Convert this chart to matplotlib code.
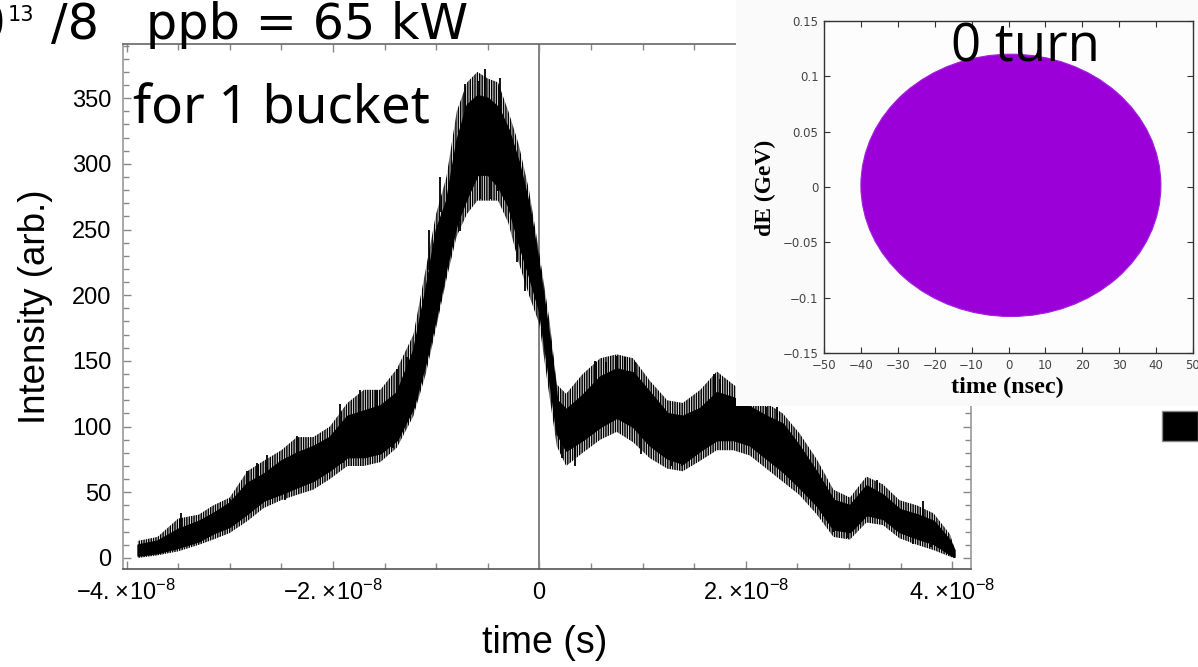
import numpy as np
import matplotlib.pyplot as plt
from matplotlib.patches import Ellipse, Rectangle
from matplotlib.ticker import MultipleLocator, FixedLocator

plt.rcParams['mathtext.fontset'] = 'custom'
plt.rcParams['mathtext.rm'] = 'Liberation Sans'
plt.rcParams['mathtext.default'] = 'rm'
plt.rcParams['hatch.linewidth'] = 1.1
plt.rcParams['hatch.color'] = 'black'

# bunch profile: time in units of 1e-8 s, lower / upper edge of the dense trace
t_1e8 = [-3.89, -3.7, -3.5, -3.3, -3.16, -3.0, -2.83, -2.67, -2.5, -2.35,
         -2.19, -2.03, -1.86, -1.7, -1.54, -1.38, -1.22, -1.1, -1.0, -0.9,
         -0.8, -0.7, -0.6, -0.5, -0.4, -0.3, -0.2, -0.1, 0.0, 0.1,
         0.17, 0.26, 0.42, 0.59, 0.75, 0.91, 1.07, 1.24, 1.39, 1.56,
         1.72, 1.88, 2.04, 2.2, 2.36, 2.52, 2.69, 2.85, 3.01, 3.17,
         3.33, 3.49, 3.66, 3.82, 3.98, 4.02]
lo = [2, 4, 8, 13, 19, 24, 34, 44, 49, 54,
      59, 67, 77, 77, 80, 90, 115, 150, 184, 222,
      255, 275, 292, 292, 283, 268, 240, 215, 188, 135,
      95, 82, 90, 100, 107, 100, 86, 76, 72, 82,
      90, 90, 86, 76, 66, 54, 40, 22, 20, 33,
      30, 20, 15, 11, 3, 1]
hi = [10, 13, 22, 28, 34, 42, 57, 64, 74, 80,
      85, 92, 108, 112, 116, 126, 158, 205, 250, 272,
      318, 345, 352, 350, 343, 326, 301, 268, 220, 165,
      120, 113, 124, 138, 144, 141, 126, 110, 108, 114,
      126, 122, 115, 108, 102, 85, 65, 44, 40, 55,
      48, 37, 33, 28, 13, 6]
# how far the noise reaches below / above the dense part
noise_lo = [0, 2, 5, 10, 14, 19, 28, 38, 44, 48,
            52, 60, 70, 70, 73, 84, 108, 140, 175, 212,
            245, 262, 272, 272, 272, 255, 225, 200, 178, 122,
            85, 70, 80, 90, 96, 88, 76, 68, 66, 74,
            82, 82, 78, 68, 58, 48, 33, 16, 14, 27,
            25, 15, 10, 6, 1, 0]
noise_hi = [13, 16, 30, 33, 40, 46, 66, 74, 82, 92,
            92, 100, 118, 128, 128, 144, 170, 220, 262, 290,
            340, 362, 370, 365, 362, 340, 315, 280, 232, 180,
            132, 125, 140, 152, 155, 152, 135, 120, 118, 128,
            142, 132, 124, 118, 110, 95, 75, 52, 46, 62,
            56, 44, 40, 34, 18, 8]

# isolated spikes sticking out of the band
spike_t = [-3.47, -3.0, -2.83, -2.74, -2.64, -2.46, -2.35, -1.93, -1.9, -1.74,
           -1.58, -1.42, -1.38, -1.32, -1.28, -1.07, -0.96, -0.77, -0.72, -0.59,
           -0.57, -0.53, -0.48, -0.4, -0.38, -0.22, -0.14, 0.22, 0.35, 0.54,
           0.65, 0.75, 0.83, 0.93, 0.99, 1.28, 1.38, 1.69, 1.75, 2.2,
           2.3, 2.43, 2.85, 2.98, 3.27, 3.62, 3.72, 3.8]
spike_lo = [20, 30, 45, 55, 60, 44, 65, 90, 72, 100,
            100, 84, 110, 102, 130, 219, 263, 249, 330, 330,
            273, 330, 273, 279, 320, 225, 203, 76, 70, 120,
            120, 125, 125, 120, 79, 70, 70, 110, 110, 95,
            95, 63, 20, 15, 45, 11, 30, 8]
spike_hi = [34, 45, 66, 72, 78, 60, 93, 117, 90, 128,
            128, 100, 144, 120, 153, 250, 290, 280, 361, 363,
            300, 372, 300, 300, 365, 260, 230, 100, 95, 150,
            149, 154, 153, 149, 105, 95, 95, 140, 136, 115,
            115, 85, 35, 30, 59, 25, 43, 20]

# phase space distribution at turn 0 (edges of the filled region)
dist_t_min, dist_t_max = -40.0, 41.3
dist_de_min, dist_de_max = -0.117, 0.120

xtick_vals = [-4e-8, -2e-8, 0, 2e-8, 4e-8]
xtick_labels = [r'$-4.\!\times\!10^{-8}$', r'$-2.\!\times\!10^{-8}$', r'$0$',
                r'$2.\!\times\!10^{-8}$', r'$4.\!\times\!10^{-8}$']
ytick_vals = [0, 50, 100, 150, 200, 250, 300, 350]

W, H = 1198, 667
fig = plt.figure(figsize=(W / 100, H / 100), dpi=100)
fig.patch.set_facecolor('white')

def fx(px):
    return px / W

def fy(py):
    return 1 - py / H

# main profile plot
ax = fig.add_axes([fx(122.7), fy(569), fx(971) - fx(122.7), fy(44.3) - fy(569)])
t = np.array(t_1e8) * 1e-8
ax.fill_between(t, noise_lo, noise_hi, facecolor='none', edgecolor='black', hatch='|' * 7, lw=0)
ax.fill_between(t, lo, hi, color='black', lw=1.5)
ax.vlines(np.array(spike_t) * 1e-8, spike_lo, spike_hi, color='black', lw=1.3)
ax.axvline(0, color='#777777', lw=1.3, zorder=0)
ax.set_xlim(-4.037e-8, 4.183e-8)
ax.set_ylim(-8.4, 391)

ax.xaxis.set_major_locator(FixedLocator(xtick_vals))
ax.set_xticklabels(xtick_labels)
ax.xaxis.set_minor_locator(MultipleLocator(0.5e-8))
ax.set_yticks(ytick_vals)
ax.yaxis.set_minor_locator(MultipleLocator(10))
ax.tick_params(which='both', direction='in', top=True, right=True, color='#888888')
ax.tick_params(which='major', length=6, width=1)
ax.tick_params(which='minor', length=4, width=1)
ax.tick_params(axis='x', pad=8, labelsize=17)
ax.tick_params(axis='y', pad=8, labelsize=17)
for lab in ax.get_yticklabels():
    lab.set_family('Liberation Sans')
for name, sp in ax.spines.items():
    sp.set_color('#999999')
    sp.set_linewidth(1.2)
ax.spines['bottom'].set_color('#555555')
ax.spines['top'].set_color('#666666')

fig.text(fx(545), fy(643), 'time (s)', fontsize=27, family=['Liberation Sans Narrow', 'Liberation Sans'],
         ha='center', va='center')
fig.text(fx(36), fy(307), 'Intensity (arb.)', fontsize=26.5, family='Liberation Sans',
         rotation=90, ha='center', va='center')

# slide annotations
fig.text(fx(133), fy(124), 'for 1 bucket', fontsize=38, family=['Noto Sans', 'DejaVu Sans'],
         ha='left', va='baseline')
fig.text(fx(6), fy(39), '10', fontsize=35.5, family='DejaVu Sans', ha='right', va='baseline')
fig.text(fx(8), fy(21), '13', fontsize=15, family='DejaVu Sans', ha='left', va='baseline')
fig.text(fx(468), fy(39), '/8   ppb = 65 kW', fontsize=35.5, family='DejaVu Sans',
         ha='right', va='baseline')

# inset: phase space at turn 0
bg = fig.add_axes([fx(736), fy(406), 1 - fx(736), fy(0) - fy(406)])
bg.set_facecolor('#fafafa')
bg.set_xticks([])
bg.set_yticks([])
for sp in bg.spines.values():
    sp.set_visible(False)

ins = fig.add_axes([fx(824), fy(353), fx(1193) - fx(824), fy(21) - fy(353)])
ins.set_facecolor('#fdfdfd')
ins.add_patch(Ellipse(((dist_t_min + dist_t_max) / 2, (dist_de_min + dist_de_max) / 2),
                      dist_t_max - dist_t_min, dist_de_max - dist_de_min,
                      facecolor='#9b00d8', edgecolor='#a020dc', lw=0.8))
ins.set_xlim(-50, 50)
ins.set_ylim(-0.15, 0.15)
ins.set_xticks(np.arange(-50, 51, 10))
ins.set_yticks([-0.15, -0.1, -0.05, 0, 0.05, 0.1, 0.15])
ins.set_yticklabels(['\u22120.15', '\u22120.1', '\u22120.05', '0', '0.05', '0.1', '0.15'])
ins.set_xticklabels([str(v).replace('-', '\u2212') for v in range(-50, 51, 10)])
ins.tick_params(direction='in', top=True, right=True, length=4, width=0.8,
                labelsize=8.5, labelcolor='#444444', color='#333333', pad=4)
for sp in ins.spines.values():
    sp.set_color('#333333')
    sp.set_linewidth(1.0)

fig.text(fx(1007), fy(387), 'time (nsec)', fontsize=17.5, family='Liberation Serif', weight='bold',
         ha='center', va='center')
fig.text(fx(765), fy(188), 'dE (GeV)', fontsize=17, family='Liberation Serif', weight='bold',
         rotation=90, ha='center', va='center')
fig.text(fx(1025), fy(48), '0 turn', fontsize=38, family='Open Sans', ha='center', va='center')

fig.add_artist(Rectangle((fx(1162), fy(441)), fx(1198) - fx(1162), fy(411) - fy(441),
                         transform=fig.transFigure, facecolor='black', edgecolor='#888888', lw=1))

fig.savefig('out.png', dpi=100)
